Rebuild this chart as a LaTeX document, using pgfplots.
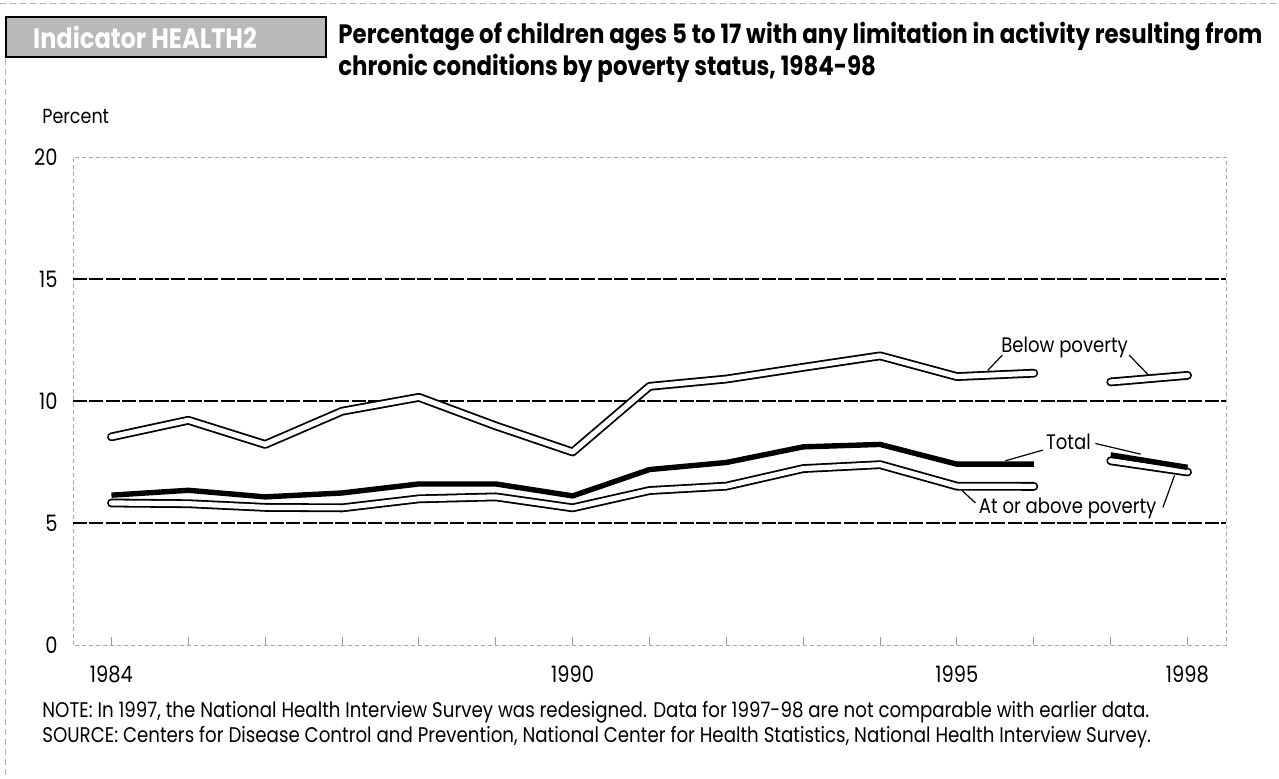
\documentclass[border=0pt]{standalone}
\usepackage{fontspec}
\setmainfont[FakeStretch=0.86]{Poppins}
\usepackage{pgfplots}
\usepackage{pgfplotstable}
\pgfplotsset{compat=1.18}

% year, below poverty, total, at or above poverty (nan = break, survey redesign in 1997)
\pgfplotstableread{
year  below  total  above
1984  8.53   6.14   5.82
1985  9.21   6.34   5.79
1986  8.22   6.07   5.64
1987  9.58   6.23   5.62
1988  10.15  6.60   5.99
1989  8.98   6.60   6.07
1990  7.91   6.11   5.62
1991  10.60  7.19   6.33
1992  10.90  7.48   6.51
1993  11.38  8.12   7.23
1994  11.85  8.22   7.39
1995  11.00  7.41   6.51
1996  11.14  7.41   6.50
1996.5 nan   nan    nan
1997  10.78  7.79   7.55
1998  11.05  7.28   7.09
}\healthdata

\begin{document}
\begin{tikzpicture}
\begin{scope}[x=0.5pt,y=0.5pt]
\useasboundingbox (0,0) rectangle (1279,779);
% page scan edges
\draw[gray!60, densely dashed, line width=0.3pt] (0,776) -- (1279,776);
\draw[gray!60, densely dashed, line width=0.3pt] (5,740) -- (5,0);
% indicator box
\fill[gray!55] (6,762) rectangle (326,722);
\draw[black, line width=0.8pt] (6,762) rectangle (326,722);
\node[text=white, font=\fontsize{14}{16}\selectfont\bfseries] at (145,742) {Indicator HEALTH2};
% title
\node[anchor=base west, inner sep=0pt, font=\fontsize{13.3}{15}\selectfont\bfseries] at (338,735)
  {Percentage of children ages 5 to 17 with any limitation in activity resulting from};
\node[anchor=base west, inner sep=0pt, font=\fontsize{13.3}{15}\selectfont\bfseries] at (338,703)
  {chronic conditions by poverty status, 1984-98};
\node[anchor=base west, inner sep=0pt, font=\fontsize{10.2}{12}\selectfont] at (42,655) {Percent};
% notes
\node[anchor=base west, inner sep=0pt, font=\fontsize{10.6}{12}\selectfont] at (42,61)
  {NOTE: In 1997, the National Health Interview Survey was redesigned. Data for 1997-98 are not comparable with earlier data.};
\node[anchor=base west, inner sep=0pt, font=\fontsize{10.6}{12}\selectfont] at (42,36)
  {SOURCE: Centers for Disease Control and Prevention, National Center for Health Statistics, National Health Interview Survey.};
\end{scope}

\begin{axis}[
  at={(36.5pt,67pt)}, anchor=south west, scale only axis,
  width=576.5pt, height=244pt,
  xmin=1983.5, xmax=1998.5, ymin=0, ymax=20,
  axis line style={gray!70, dash pattern=on 2pt off 1.5pt, line width=0.4pt},
  xtick={1984,...,1998},
  xticklabels={1984,,,,,,1990,,,,,1995,,,1998},
  ytick={0,20}, extra y ticks={5,10,15},
  extra y tick style={grid=major},
  grid style={black, dash pattern=on 7pt off 1.2pt, line width=0.6pt},
  ytick style={draw=none},
  xtick pos=bottom, tick align=inside,
  xtick style={gray!80, line width=0.4pt},
  major tick length=4pt,
  /pgf/number format/assume math mode=true,
  tick label style={font=\fontsize{11.3}{13}\selectfont, inner sep=0pt},
  yticklabel style={xshift=-7.5pt},
  xticklabel style={yshift=-10pt},
  clip=false,
  unbounded coords=jump,
]
\addplot[draw=black, line width=0.9pt, double=white, double distance=2.6pt,
  line cap=round, line join=round] table[x=year, y=below] {\healthdata};
\addplot[draw=black, line width=0.9pt, double=white, double distance=2.6pt,
  line cap=round, line join=round] table[x=year, y=above] {\healthdata};
\addplot[draw=black, line width=2.7pt, line join=round] table[x=year, y=total] {\healthdata};

% series labels and leaders
\node[font=\fontsize{10.5}{12}\selectfont] at (axis cs:1996.4,12.2) {Below poverty};
\draw[line width=0.6pt] (axis cs:1995.59,11.88) -- (axis cs:1995.40,11.25);
\draw[line width=0.6pt] (axis cs:1997.24,11.88) -- (axis cs:1997.49,11.07);
\node[font=\fontsize{10.5}{12}\selectfont] at (axis cs:1996.45,8.32) {Total};
\draw[line width=0.6pt] (axis cs:1996.12,7.99) -- (axis cs:1995.63,7.55);
\draw[line width=0.6pt] (axis cs:1996.80,8.26) -- (axis cs:1997.39,7.82);
\node[font=\fontsize{10.5}{12}\selectfont] at (axis cs:1996.44,5.58) {At or above poverty};
\draw[line width=0.6pt] (axis cs:1995.24,5.82) -- (axis cs:1995.07,6.32);
\draw[line width=0.6pt] (axis cs:1997.68,5.64) -- (axis cs:1997.83,6.95);
\end{axis}
\end{tikzpicture}
\end{document}
